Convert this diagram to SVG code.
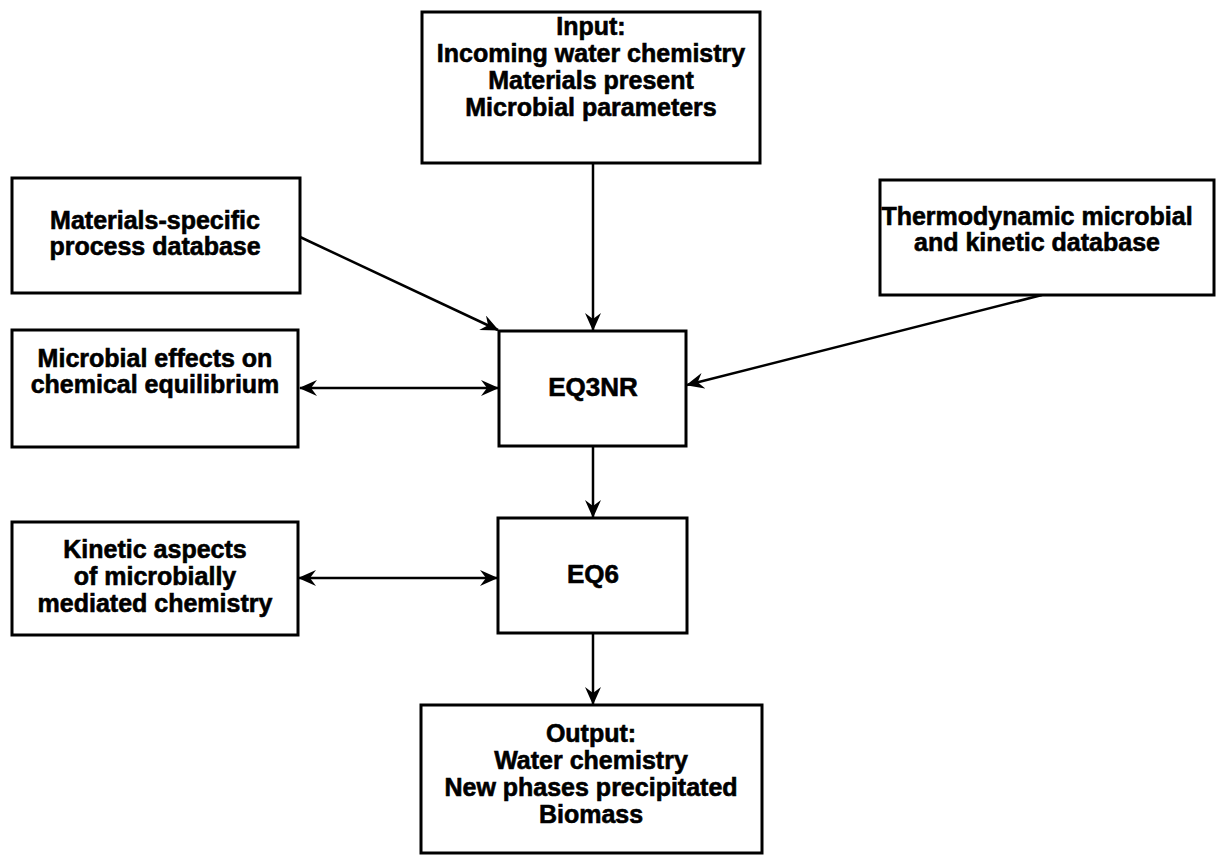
<svg xmlns="http://www.w3.org/2000/svg" width="1219" height="855" viewBox="0 0 1219 855">
  <style>
    .box { fill: #fff; stroke: #000; stroke-width: 3; }
    .lbl { font-family: "Liberation Sans", Arial, Helvetica, sans-serif; font-weight: bold; font-size: 25px; fill: #000; stroke: #000; stroke-width: 0.6; text-anchor: middle; }
    .big { font-size: 26px; }
    .wire { fill: none; stroke: #000; stroke-width: 2.5; }
  </style>
  <defs>
    <marker id="head" viewBox="0 0 18 16" refX="17" refY="8" markerWidth="18" markerHeight="16" markerUnits="userSpaceOnUse" orient="auto-start-reverse">
      <path d="M0,0 L18,8 L0,16 L6,8 Z" fill="#000"/>
    </marker>
  </defs>
  <rect width="1219" height="855" fill="#fff"/>

  <!-- connectors -->
  <g id="connectors">
    <line class="wire" x1="593" y1="163" x2="593" y2="330" marker-end="url(#head)"/>
    <line class="wire" x1="300" y1="237" x2="498" y2="330" marker-end="url(#head)"/>
    <line class="wire" x1="1042" y1="295" x2="687" y2="385" marker-end="url(#head)"/>
    <line class="wire" x1="300" y1="388" x2="498" y2="388" marker-start="url(#head)" marker-end="url(#head)"/>
    <line class="wire" x1="593" y1="446" x2="593" y2="517" marker-end="url(#head)"/>
    <line class="wire" x1="299" y1="578" x2="497" y2="578" marker-start="url(#head)" marker-end="url(#head)"/>
    <line class="wire" x1="593" y1="633" x2="593" y2="704" marker-end="url(#head)"/>
  </g>

  <g id="input">
    <rect class="box" x="422" y="12" width="338" height="151"/>
    <text class="lbl" x="591" y="35">Input:</text>
    <text class="lbl" x="591" y="62">Incoming water chemistry</text>
    <text class="lbl" x="591" y="89">Materials present</text>
    <text class="lbl" x="591" y="116">Microbial parameters</text>
  </g>

  <g id="materials-db">
    <rect class="box" x="12" y="178" width="288" height="115"/>
    <text class="lbl" x="155" y="229">Materials-specific</text>
    <text class="lbl" x="155" y="255">process database</text>
  </g>

  <g id="thermo-db">
    <rect class="box" x="880" y="180" width="334" height="115"/>
    <text class="lbl" x="1037" y="225">Thermodynamic microbial</text>
    <text class="lbl" x="1037" y="251">and kinetic database</text>
  </g>

  <g id="microbial-effects">
    <rect class="box" x="12" y="330" width="286" height="117"/>
    <text class="lbl" x="155" y="367">Microbial effects on</text>
    <text class="lbl" x="155" y="393">chemical equilibrium</text>
  </g>

  <g id="eq3nr">
    <rect class="box" x="499" y="331" width="187" height="115"/>
    <text class="lbl big" x="593" y="396">EQ3NR</text>
  </g>

  <g id="kinetic">
    <rect class="box" x="12" y="522" width="286" height="113"/>
    <text class="lbl" x="155" y="558">Kinetic aspects</text>
    <text class="lbl" x="155" y="585">of microbially</text>
    <text class="lbl" x="155" y="612">mediated chemistry</text>
  </g>

  <g id="eq6">
    <rect class="box" x="498" y="518" width="189" height="115"/>
    <text class="lbl big" x="593" y="583">EQ6</text>
  </g>

  <g id="output">
    <rect class="box" x="421" y="705" width="341" height="148"/>
    <text class="lbl" x="591" y="742">Output:</text>
    <text class="lbl" x="591" y="769">Water chemistry</text>
    <text class="lbl" x="591" y="796">New phases precipitated</text>
    <text class="lbl" x="591" y="823">Biomass</text>
  </g>
</svg>
